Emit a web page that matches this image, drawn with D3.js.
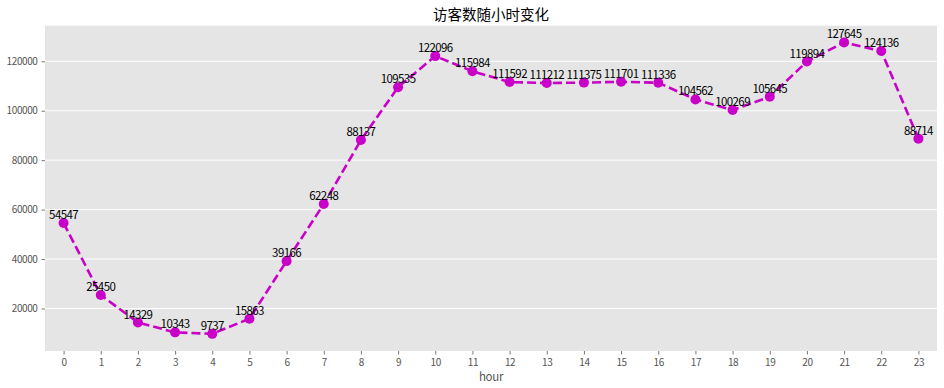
<!DOCTYPE html>
<html><head><meta charset="utf-8">
<script src="https://cdn.jsdelivr.net/npm/d3@7"></script>
<style>body{margin:0;background:#fff}svg{display:block}</style>
</head><body>
<script>
const hours = ["0","1","2","3","4","5","6","7","8","9","10","11","12","13","14","15","16","17","18","19","20","21","22","23"];
const visitors = [54547,25450,14329,10343,9737,15863,39166,62248,88137,109535,122096,115984,111592,111212,111375,111701,111336,104562,100269,105645,119894,127645,124136,88714];
const yTicks = [20000,40000,60000,80000,100000,120000];
const yDomain = [2800, 134400];
const title = "访客数随小时变化";
const xLabel = "hour";

const W = 944, H = 388;
const L = 45, R = 937, T = 25.7, B = 351;
const svg = d3.select("body").append("svg").attr("width", W).attr("height", H);

const x = d3.scaleLinear().domain([-0.5, hours.length - 0.5]).range([L, R]);
const y = d3.scaleLinear().domain(yDomain).range([B, T]);

const labelFont = "'Noto Sans CJK SC',sans-serif";

svg.append("rect").attr("x", L).attr("y", T).attr("width", R - L).attr("height", B - T).attr("fill", "#e5e5e5");

svg.append("g").selectAll("line").data(yTicks).join("line")
  .attr("x1", L).attr("x2", R).attr("y1", d => y(d)).attr("y2", d => y(d))
  .attr("stroke", "#fff").attr("stroke-width", 1);

const xAxis = svg.append("g").attr("transform", `translate(0,${B})`)
  .call(d3.axisBottom(x).tickValues(d3.range(hours.length)).tickFormat(i => hours[i]).tickSize(3.5).tickPadding(4));
const yAxis = svg.append("g").attr("transform", `translate(${L},0)`)
  .call(d3.axisLeft(y).tickValues(yTicks).tickFormat(d3.format("d")).tickSize(3.5).tickPadding(4));
[xAxis, yAxis].forEach(a => {
  a.select(".domain").remove();
  a.selectAll(".tick line").attr("stroke", "#555").attr("stroke-width", 0.8);
  a.selectAll(".tick text").attr("fill", "#555").attr("font-size", "10px")
    .attr("letter-spacing", "-0.4px").attr("font-family", labelFont);
});

const line = d3.line().x((d, i) => x(i)).y(d => y(d));
svg.append("path").datum(visitors).attr("d", line).attr("fill", "none")
  .attr("stroke", "#c800c8").attr("stroke-width", 2.6).attr("stroke-dasharray", "9,4");

svg.append("g").selectAll("circle").data(visitors).join("circle")
  .attr("cx", (d, i) => x(i)).attr("cy", d => y(d)).attr("r", 5).attr("fill", "#c800c8");

svg.append("g").selectAll("text").data(visitors).join("text")
  .attr("x", (d, i) => x(i)).attr("y", d => y(d) - 4)
  .attr("text-anchor", "middle").attr("font-size", "11.5px").attr("fill", "#000")
  .attr("letter-spacing", "-0.6px").attr("font-family", labelFont)
  .text(d => d);

svg.append("text").attr("x", (L + R) / 2).attr("y", 20).attr("text-anchor", "middle")
  .attr("font-size", "14.5px").attr("font-family", labelFont).attr("fill", "#000").text(title);

svg.append("text").attr("x", (L + R) / 2).attr("y", 381).attr("text-anchor", "middle")
  .attr("font-size", "11.5px").attr("letter-spacing", "-0.3px").attr("font-family", labelFont).attr("fill", "#555").text(xLabel);
</script>
</body></html>
